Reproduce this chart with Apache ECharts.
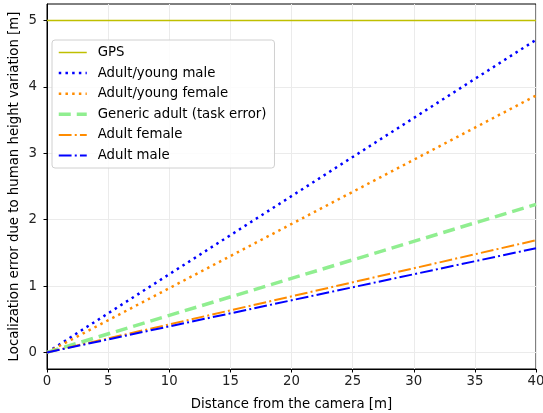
<!DOCTYPE html>
<html>
<head>
<meta charset="utf-8">
<script src="https://cdn.jsdelivr.net/npm/echarts@6/dist/echarts.min.js"></script>
<style>html,body{margin:0;padding:0;background:#fff;}#c{width:543px;height:413px;}</style>
</head>
<body>
<div id="c"></div>
<script>
const distances = [0, 40];
const gps = [5, 5];
const youngMale = [0, 4.71];
const youngFemale = [0, 3.87];
const genericAdult = [0, 2.23];
const adultFemale = [0, 1.69];
const adultMale = [0, 1.57];
const seriesNames = ['GPS', 'Adult/young male', 'Adult/young female', 'Generic adult (task error)', 'Adult female', 'Adult male'];
const xTicks = [0, 5, 10, 15, 20, 25, 30, 35, 40];
const yTicks = [0, 1, 2, 3, 4, 5];

const pairs = arr => distances.map((d, i) => [d, arr[i]]);
const font = 'DejaVu Sans';
const fs = 13.3;
const styles = [
  {color: '#bfbf00', width: 1.5, type: 'solid'},
  {color: '#0000ff', width: 2.5, type: [2.5, 4.2]},
  {color: '#ff8c00', width: 2.5, type: [2.5, 4.2]},
  {color: '#90ee90', width: 3.5, type: [12, 6]},
  {color: '#ff8c00', width: 2, type: [12.8, 3.2, 2, 3.2]},
  {color: '#0000ff', width: 2, type: [12.8, 3.2, 2, 3.2]}
];
const datasets = [gps, youngMale, youngFemale, genericAdult, adultFemale, adultMale];

const chart = echarts.init(document.getElementById('c'), null, {renderer: 'canvas'});
chart.setOption({
  animation: false,
  backgroundColor: '#fff',
  grid: {left: 47, right: 7, top: 4, bottom: 44, show: true, borderColor: '#000', borderWidth: 1, backgroundColor: 'transparent', containLabel: false, outerBoundsMode: 'none'},
  legend: {
    orient: 'vertical', left: 52, top: 40,
    padding: [6, 8, 6, 5],
    itemWidth: 28, itemHeight: 12, itemGap: 7.6,
    backgroundColor: 'rgba(255,255,255,0.85)',
    borderColor: '#d0d0d0', borderWidth: 1, borderRadius: 3,
    itemStyle: {color: 'rgba(0,0,0,0)', borderWidth: 0, opacity: 0},
    lineStyle: {width: 'inherit'},
    textStyle: {fontFamily: font, fontSize: fs, lineHeight: 11, color: '#000', padding: [0, 0, 0, 6]},
    data: seriesNames
  },
  xAxis: {
    type: 'value', min: 0, max: 40, interval: 5,
    name: 'Distance from the camera [m]', nameLocation: 'middle', nameGap: 29,
    nameTextStyle: {fontFamily: font, fontSize: fs, color: '#000'},
    axisLine: {show: true, onZero: false, lineStyle: {color: '#000'}},
    axisTick: {show: true, inside: false, length: 3.5, lineStyle: {color: '#000'}, customValues: xTicks},
    axisLabel: {fontFamily: font, fontSize: fs, color: '#222', margin: 6, customValues: xTicks},
    splitLine: {show: true, lineStyle: {color: '#ebebeb', width: 1}}
  },
  yAxis: {
    type: 'value', min: -0.25, max: 5.25,
    name: 'Localization error due to human height variation [m]', nameLocation: 'middle', nameGap: 26,
    nameMoveOverlap: false,
    nameTextStyle: {fontFamily: font, fontSize: fs, color: '#000'},
    axisLine: {show: true, onZero: false, lineStyle: {color: '#000'}},
    axisTick: {show: true, inside: false, length: 3.5, lineStyle: {color: '#000'}, customValues: yTicks},
    axisLabel: {fontFamily: font, fontSize: fs, color: '#222', margin: 10, customValues: yTicks},
    splitLine: {show: true, lineStyle: {color: '#ebebeb', width: 1}}
  },
  series: datasets.map((arr, i) => ({
    name: seriesNames[i],
    type: 'line',
    data: pairs(arr),
    symbol: 'none',
    clip: true,
    lineStyle: {color: styles[i].color, width: styles[i].width, type: styles[i].type, cap: 'butt'},
    itemStyle: {color: styles[i].color}
  }))
});
</script>
</body>
</html>
